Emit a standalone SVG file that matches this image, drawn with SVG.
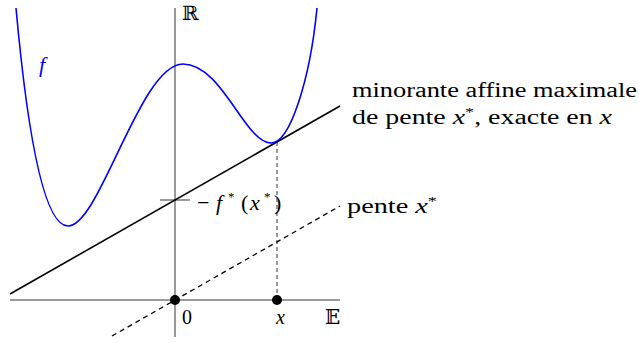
<svg xmlns="http://www.w3.org/2000/svg" width="639" height="343" viewBox="0 0 639 343">
<style>
.axis{stroke:#000;stroke-width:0.8;fill:none}
.thick{stroke:#000;stroke-width:1.6;fill:none}
.dash{stroke:#000;stroke-width:1.3;fill:none;stroke-dasharray:5,4}
.vdash{stroke:#000;stroke-width:0.8;fill:none;stroke-dasharray:4,3}
.curve{stroke:#0000ff;stroke-width:1.6;fill:none}
text{font-family:"Liberation Serif","DejaVu Serif",serif;font-size:20px;fill:#000}
.it{font-style:italic}
.sup{font-size:13px}
.ds{font-family:"DejaVu Serif","DejaVu Sans",serif;font-size:20px}
</style>
<rect width="639" height="343" fill="#fff"/>
<g id="axes">
<line class="axis" x1="175" y1="8" x2="175" y2="337"/>
<line class="axis" x1="10" y1="300" x2="340" y2="300"/>
<line class="axis" x1="160" y1="200" x2="190" y2="200"/>
</g>
<g id="connectors">
<line class="thick" x1="10" y1="294" x2="340" y2="106"/>
<line class="dash" x1="112" y1="336" x2="340" y2="206"/>
<line class="vdash" x1="277" y1="142" x2="277" y2="300"/>
</g>
<g id="curve-f">
<path class="curve" d="M16,8 C28,140 45,226 68,226 C100,226 140,64 183,64 C222,64 245,143 271,143 C290,143 310,80 317,8"/>
<text x="39" y="72" class="it" style="fill:#0000ff;font-size:22px">f</text>
</g>
<g id="point-0">
<circle cx="175" cy="300" r="5" fill="#000"/>
<text x="182" y="324">0</text>
</g>
<g id="point-x">
<circle cx="277" cy="300" r="5" fill="#000"/>
<text x="276" y="324" class="it">x</text>
</g>
<g id="labels">
<text x="182" y="20" class="ds">ℝ</text>
<text x="325" y="324" class="ds">𝔼</text>
<text y="210" style="font-size:22px"><tspan x="197">−</tspan><tspan x="216" class="it">f</tspan><tspan x="228" dy="-9" class="sup">*</tspan><tspan x="241" dy="9">(</tspan><tspan x="250" class="it">x</tspan><tspan x="264" dy="-9" class="sup">*</tspan><tspan x="274" dy="9">)</tspan></text>
<text x="352" y="97" textLength="285" lengthAdjust="spacingAndGlyphs">minorante affine maximale</text>
<text x="352" y="124" textLength="260" lengthAdjust="spacingAndGlyphs">de pente <tspan class="it">x</tspan><tspan class="sup" dy="-8">*</tspan><tspan dy="8">, exacte en </tspan><tspan class="it">x</tspan></text>
<text x="347" y="213" textLength="90" lengthAdjust="spacingAndGlyphs">pente <tspan class="it">x</tspan><tspan class="sup" dy="-8">*</tspan></text>
</g>
</svg>
